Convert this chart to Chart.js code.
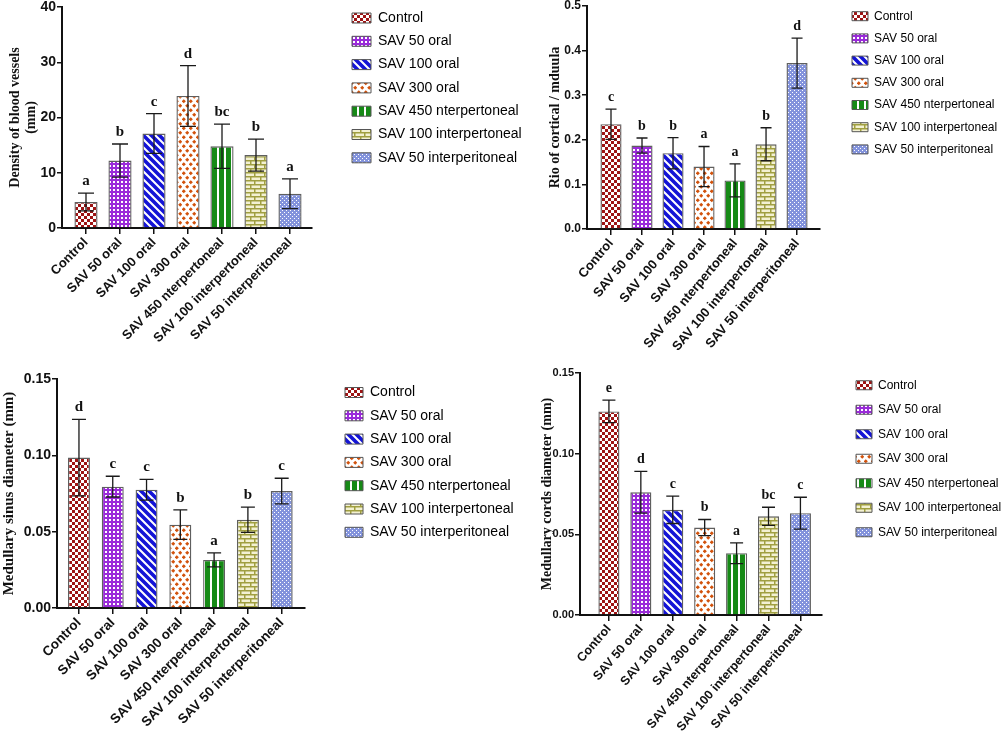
<!DOCTYPE html>
<html>
<head>
<meta charset="utf-8">
<script src="https://cdn.jsdelivr.net/npm/chart.js@4.4.0/dist/chart.umd.min.js"></script>
<style>
  body { margin: 0; background: #fff; }
  #wrap { position: relative; width: 1003px; height: 741px; overflow: hidden; background: #fff; }
  canvas { position: absolute; }
</style>
</head>
<body>
<div id="wrap">
  <canvas id="densityChart" width="540" height="372" style="left:0px;top:0px"></canvas>
  <canvas id="ratioChart" width="503" height="372" style="left:500px;top:0px"></canvas>
  <canvas id="sinusChart" width="540" height="375" style="left:0px;top:366px"></canvas>
  <canvas id="cordsChart" width="503" height="381" style="left:500px;top:360px"></canvas>
</div>
<script>
// groups, same order in every panel
const groups = ['Control', 'SAV 50 oral', 'SAV 100 oral', 'SAV 300 oral', 'SAV 450 nterpertoneal', 'SAV 100 interpertoneal', 'SAV 50 interperitoneal'];

// density of blood vessels
const densityMean = [4.7, 12.2, 17.1, 23.9, 14.8, 13.2, 6.2];
const densityErr = [1.6, 3.0, 3.6, 5.5, 4.0, 2.9, 2.7];
const densityLetters = ['a', 'b', 'c', 'd', 'bc', 'b', 'a'];
const densityTicks = [0, 10, 20, 30, 40];

// ratio cortical / medulla
const ratioMean = [0.235, 0.187, 0.170, 0.140, 0.109, 0.190, 0.372];
const ratioErr = [0.034, 0.017, 0.035, 0.045, 0.037, 0.037, 0.056];
const ratioLetters = ['c', 'b', 'b', 'a', 'a', 'b', 'd'];
const ratioTicks = [0, 0.1, 0.2, 0.3, 0.4, 0.5];

// medullary sinus diameter
const sinusMean = [0.0985, 0.0795, 0.0775, 0.0546, 0.0315, 0.0578, 0.0766];
const sinusErr = [0.025, 0.0068, 0.0068, 0.0097, 0.0046, 0.0083, 0.0084];
const sinusLetters = ['d', 'c', 'c', 'b', 'a', 'b', 'c'];
const sinusTicks = [0, 0.05, 0.10, 0.15];

// medullary cords diameter
const cordsMean = [0.1262, 0.0761, 0.0652, 0.0542, 0.0383, 0.0612, 0.0631];
const cordsErr = [0.007, 0.0129, 0.0085, 0.005, 0.0064, 0.0056, 0.0099];
const cordsLetters = ['e', 'd', 'c', 'b', 'a', 'bc', 'c'];
const cordsTicks = [0, 0.05, 0.10, 0.15];

const SANS = '"Liberation Sans", Arial, sans-serif';
const SERIF = '"Liberation Serif", "Times New Roman", serif';

// small repeating tiles for the bar fills
function tile(w, h, draw) {
  const c = document.createElement('canvas');
  c.width = w;
  c.height = h;
  const g = c.getContext('2d');
  draw(g);
  return g.createPattern(c, 'repeat');
}

const fills = [
  // checker red
  tile(6, 6, g => {
    g.fillStyle = '#fff'; g.fillRect(0, 0, 6, 6);
    g.fillStyle = '#9e1414'; g.fillRect(0, 0, 3, 3); g.fillRect(3, 3, 3, 3);
  }),
  // fine purple
  tile(4, 4, g => {
    g.fillStyle = '#9a2bd9'; g.fillRect(0, 0, 4, 4);
    g.fillStyle = '#fff'; g.fillRect(1, 1, 2, 2);
  }),
  // blue diagonal
  tile(8, 8, g => {
    g.fillStyle = '#fff'; g.fillRect(0, 0, 8, 8);
    g.strokeStyle = '#1414d6'; g.lineWidth = 3.6;
    g.beginPath();
    [-8, 0, 8].forEach(k => { g.moveTo(k - 2, -2); g.lineTo(k + 10, 10); });
    g.stroke();
  }),
  // orange dots
  tile(7, 9, g => {
    g.fillStyle = '#fff'; g.fillRect(0, 0, 7, 9);
    g.fillStyle = '#d2520c';
    [[1.75, 2.25], [5.25, 6.75]].forEach(([cx, cy]) => {
      g.beginPath();
      g.moveTo(cx, cy - 2.1); g.lineTo(cx + 2.1, cy); g.lineTo(cx, cy + 2.1); g.lineTo(cx - 2.1, cy);
      g.closePath(); g.fill();
    });
  }),
  // green vertical
  tile(7, 1, g => {
    g.fillStyle = '#168a16'; g.fillRect(0, 0, 7, 1);
    g.fillStyle = '#fff'; g.fillRect(0, 0, 2, 1);
  }),
  // olive brick
  tile(10, 8, g => {
    g.fillStyle = '#a09f40'; g.fillRect(0, 0, 10, 8);
    g.fillStyle = '#f3f1d2';
    g.fillRect(1.5, 1.5, 8.5, 2.5);
    g.fillRect(0, 5.5, 4, 2.5); g.fillRect(5.5, 5.5, 4.5, 2.5);
  }),
  // light blue dots
  tile(4, 4, g => {
    g.fillStyle = '#8393dc'; g.fillRect(0, 0, 4, 4);
    g.fillStyle = '#fff'; g.fillRect(0, 0, 1, 1); g.fillRect(2, 2, 1, 1);
  })
];

function legendWidth(size, boxW, pad) {
  const g = document.createElement('canvas').getContext('2d');
  g.font = size + 'px ' + SANS;
  const m = Math.max(...groups.map(t => g.measureText(t).width));
  return pad + boxW + size / 2 + m + 10;
}

// error bars + significance letters
function errorBars(means, errs, letters, fontSize, cap) {
  return {
    id: 'errorBars',
    afterDatasetsDraw(chart) {
      const { ctx } = chart;
      const x = chart.scales.x;
      const y = chart.scales.y;
      ctx.save();
      ctx.strokeStyle = '#1a1a1a';
      ctx.lineWidth = 1.3;
      ctx.fillStyle = '#111';
      ctx.font = 'bold ' + fontSize + 'px ' + SERIF;
      ctx.textAlign = 'center';
      ctx.textBaseline = 'alphabetic';
      means.forEach((m, i) => {
        const cx = x.getPixelForValue(i);
        const top = y.getPixelForValue(m + errs[i]);
        const bot = y.getPixelForValue(m - errs[i]);
        ctx.beginPath();
        ctx.moveTo(cx, top); ctx.lineTo(cx, bot);
        ctx.moveTo(cx - cap / 2, top); ctx.lineTo(cx + cap / 2, top);
        ctx.moveTo(cx - cap / 2, bot); ctx.lineTo(cx + cap / 2, bot);
        ctx.stroke();
        ctx.fillText(letters[i], cx, top - 8);
      });
      ctx.restore();
    }
  };
}

function drawPanel(id, p) {
  const canvas = document.getElementById(id);
  const lw = legendWidth(p.legendSize, p.boxW, p.legendPad);
  const padRight = canvas.width - (p.swatchX - p.legendPad) - lw;

  new Chart(canvas, {
    type: 'bar',
    data: {
      datasets: [{
        data: p.means.map((v, i) => ({ x: i, y: v })),
        backgroundColor: fills,
        borderColor: '#5f5f5f',
        borderWidth: 1.4,
        barPercentage: p.barPct,
        categoryPercentage: 1
      }]
    },
    options: {
      responsive: false,
      animation: false,
      layout: { padding: { top: p.padTop, bottom: canvas.height - p.xHeight - p.chartBottom, left: 0, right: padRight } },
      scales: {
        x: {
          type: 'linear',
          offset: false,
          min: p.xMin,
          max: p.xMax,
          afterBuildTicks: s => { s.ticks = groups.map((g, i) => ({ value: i })); },
          afterFit: s => { s.height = p.xHeight; s.paddingLeft = 0; s.paddingRight = 0; },
          grid: { display: true, drawOnChartArea: false, offset: false, tickLength: 6, color: '#111', lineWidth: 1.5 },
          border: { color: '#111', width: 2 },
          ticks: {
            autoSkip: false, maxRotation: p.rot, minRotation: p.rot, padding: 1, color: '#111',
            font: { family: SANS, weight: 'bold', size: p.xFont },
            callback: v => groups[Math.round(v)]
          }
        },
        y: {
          min: p.ticks[0],
          max: p.ticks[p.ticks.length - 1],
          afterBuildTicks: s => { s.ticks = p.ticks.map(v => ({ value: v })); },
          afterFit: s => { s.width = p.axisX; s.paddingTop = p.chartTop; s.paddingBottom = 0; },
          grid: { display: true, drawOnChartArea: false, tickLength: 5, color: '#111', lineWidth: 1.5 },
          border: { color: '#111', width: 2 },
          ticks: {
            padding: 1, color: '#111',
            font: { family: SANS, weight: 'bold', size: p.yFont },
            callback: v => v.toFixed(p.decimals)
          },
          title: {
            display: true, text: p.title, color: '#111',
            font: { family: SERIF, weight: 'bold', size: p.titleSize },
            padding: { top: p.titlePad, bottom: 0 }
          }
        },
        // empty box, keeps the space between axis and legend
        gap: {
          type: 'linear', position: 'right', display: true,
          grid: { display: false }, border: { display: false }, ticks: { display: false },
          afterFit: s => { s.width = p.gap; }
        }
      },
      plugins: {
        legend: {
          position: 'right',
          align: 'start',
          maxWidth: 400,
          onClick: null,
          labels: {
            boxWidth: p.boxW,
            boxHeight: p.boxH,
            padding: p.legendPad,
            color: '#1a1a1a',
            font: { family: SANS, size: p.legendSize },
            generateLabels: () => groups.map((t, i) => ({
              text: t, fillStyle: fills[i], strokeStyle: '#555', lineWidth: 1,
              hidden: false, index: i, datasetIndex: 0
            }))
          }
        },
        tooltip: { enabled: false }
      }
    },
    plugins: [errorBars(p.means, p.errs, p.letters, p.letterSize, p.cap)]
  });
}

drawPanel('densityChart', {
  means: densityMean, errs: densityErr, letters: densityLetters, ticks: densityTicks, decimals: 0,
  title: ['Density of blood vessels', '(mm)'], titleSize: 14, titlePad: 6.6,
  axisX: 62, chartTop: 7, chartBottom: 228, xHeight: 140, xMin: -0.706, xMax: 6.647,
  barPct: 0.68, cap: 16, xFont: 13, rot: 45, yFont: 14, letterSize: 15,
  padTop: 1.7, gap: 30.7, swatchX: 352, boxW: 19, boxH: 10, legendPad: 9.3, legendSize: 14
});

drawPanel('ratioChart', {
  means: ratioMean, errs: ratioErr, letters: ratioLetters, ticks: ratioTicks, decimals: 1,
  title: 'Rio of cortical / mduula', titleSize: 14, titlePad: 46.6,
  axisX: 87, chartTop: 6, chartBottom: 229, xHeight: 140, xMin: -0.774, xMax: 6.74,
  barPct: 0.68, cap: 11, xFont: 13, rot: 50, yFont: 12, letterSize: 14,
  padTop: 0, gap: 21.8, swatchX: 352, boxW: 16, boxH: 9, legendPad: 10.2, legendSize: 12
});

drawPanel('sinusChart', {
  means: sinusMean, errs: sinusErr, letters: sinusLetters, ticks: sinusTicks, decimals: 2,
  title: 'Medullary sinus diameter (mm)', titleSize: 15, titlePad: 0,
  axisX: 57, chartTop: 13, chartBottom: 242, xHeight: 133, xMin: -0.65, xMax: 6.69,
  barPct: 0.65, cap: 14, xFont: 13.5, rot: 45, yFont: 14, letterSize: 15,
  padTop: 10.2, gap: 30.7, swatchX: 345, boxW: 18, boxH: 10, legendPad: 9.3, legendSize: 14
});

drawPanel('cordsChart', {
  means: cordsMean, errs: cordsErr, letters: cordsLetters, ticks: cordsTicks, decimals: 2,
  title: 'Medullary cords diameter (mm)', titleSize: 14, titlePad: 38.6,
  axisX: 80, chartTop: 13, chartBottom: 255, xHeight: 126, xMin: -0.906, xMax: 6.66,
  barPct: 0.66, cap: 13, xFont: 12.5, rot: 49, yFont: 11, letterSize: 14,
  padTop: 6.75, gap: 22, swatchX: 856 - 500, boxW: 16, boxH: 9, legendPad: 12.5, legendSize: 12
});
</script>
</body>
</html>
